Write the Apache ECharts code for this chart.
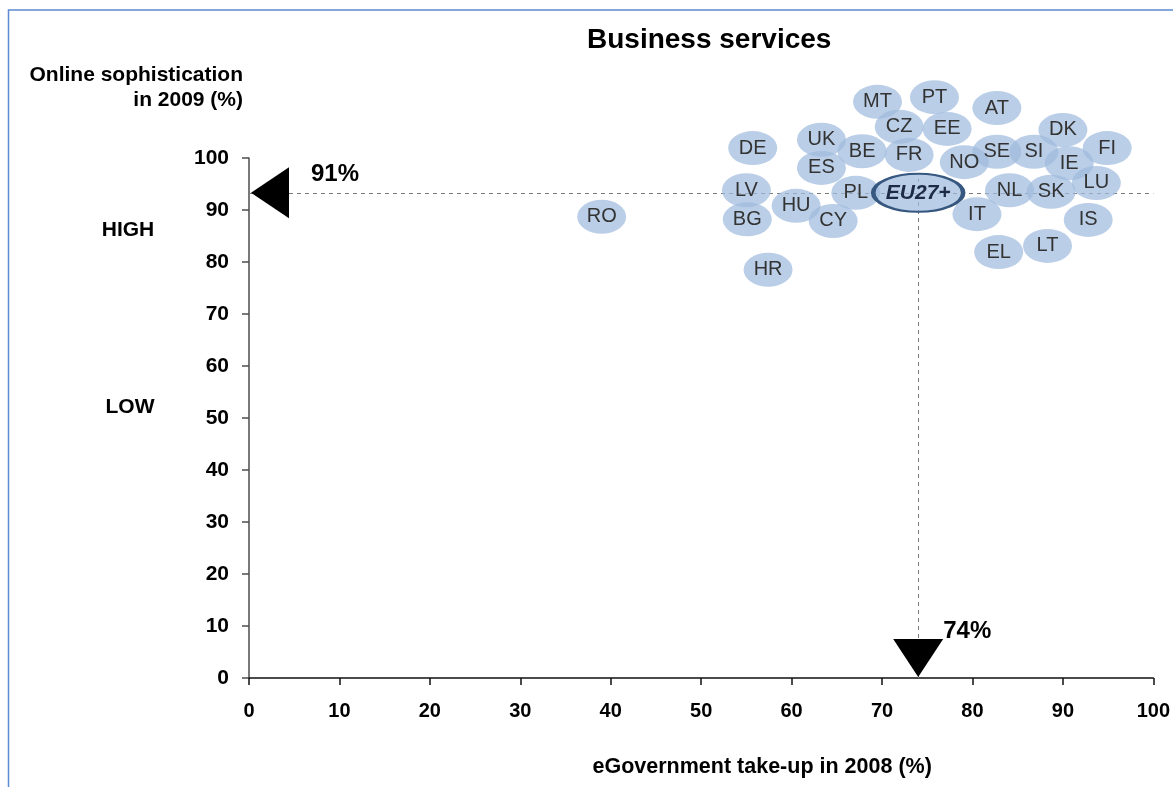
<!DOCTYPE html>
<html>
<head>
<meta charset="utf-8">
<title>Business services</title>
<script src="https://cdn.jsdelivr.net/npm/echarts@6/dist/echarts.min.js"></script>
<style>
  html, body { margin: 0; padding: 0; background: #fff; }
  #chart { width: 1173px; height: 787px; }
</style>
</head>
<body>
<div id="chart"></div>
<script>
// country codes, with their eGovernment take-up (x) and online sophistication (y)
const countries = ["RO", "DE", "LV", "BG", "HR", "HU", "CY", "UK", "ES", "BE",
  "PL", "MT", "PT", "CZ", "EE", "FR", "NO", "AT", "SE", "SI",
  "DK", "FI", "IE", "LU", "NL", "SK", "IT", "IS", "EL", "LT"];
const takeUp = [39.0, 55.7, 55.0, 55.1, 57.4, 60.5, 64.6, 63.3, 63.3, 67.8,
  67.1, 69.5, 75.8, 71.9, 77.2, 73.0, 79.1, 82.7, 82.7, 86.8,
  90.0, 94.9, 90.7, 93.7, 84.1, 88.7, 80.5, 92.8, 82.9, 88.3];
const sophistication = [88.7, 101.9, 93.8, 88.2, 78.5, 90.8, 87.9, 103.5, 98.1, 101.3,
  93.3, 110.8, 111.7, 106.0, 105.6, 100.6, 99.2, 109.6, 101.2, 101.2,
  105.4, 101.9, 99.0, 95.2, 93.8, 93.5, 89.2, 88.1, 81.9, 83.1];

// EU average
const euName = "EU27+";
const euTakeUp = 74;
const euSoph = 93.3;
const euTakeUpText = "74%";
const euSophText = "91%";

// axes
const axisMin = 0;
const axisMax = 100;
const axisStep = 10;

const FONT = "'Liberation Sans', Arial, sans-serif";
const ELLIPSE = "path://M0,50 A50,50 0 1,1 100,50 A50,50 0 1,1 0,50 Z";
const bubbleFill = "rgba(160,187,222,0.72)";

const chart = echarts.init(document.getElementById("chart"));

const countryData = countries.map((c, i) => ({
  name: c,
  value: [takeUp[i], sophistication[i]],
}));

const option = {
  backgroundColor: "#fff",
  animation: false,
  title: {
    text: "Business services",
    left: 582,
    top: 21,
    textStyle: { fontFamily: FONT, fontSize: 28, fontWeight: "bold", color: "#000" },
  },
  grid: { left: 249, right: 16, top: 158, bottom: 109, containLabel: false },
  xAxis: {
    type: "value",
    min: axisMin,
    max: axisMax,
    interval: axisStep,
    name: "eGovernment take-up in 2008 (%)",
    nameLocation: "middle",
    nameGap: 78,
    nameTextStyle: {
      fontFamily: FONT, fontSize: 21.5, fontWeight: "bold", color: "#000",
      padding: [0, 0, 0, 122],
    },
    splitLine: { show: false },
    axisLine: { onZero: false, lineStyle: { color: "#111", width: 1.5 } },
    axisTick: { show: true, inside: false, length: 7, lineStyle: { color: "#111", width: 1.5 } },
    axisLabel: { margin: 23, fontFamily: FONT, fontSize: 20, fontWeight: "bold", color: "#000" },
  },
  yAxis: {
    type: "value",
    min: axisMin,
    max: axisMax,
    interval: axisStep,
    name: "Online sophistication\nin 2009 (%)",
    nameLocation: "end",
    nameGap: 45,
    nameTextStyle: {
      fontFamily: FONT, fontSize: 21, fontWeight: "bold", color: "#000",
      align: "right", verticalAlign: "bottom", lineHeight: 25,
      padding: [0, 6, 0, 0],
    },
    splitLine: { show: false },
    axisLine: { onZero: false, lineStyle: { color: "#4d4d4d", width: 1.5 } },
    axisTick: { show: true, inside: false, length: 7, lineStyle: { color: "#4d4d4d", width: 1.5 } },
    axisLabel: { margin: 20, fontFamily: FONT, fontSize: 21, fontWeight: "bold", color: "#000" },
  },
  graphic: [
    {
      type: "rect",
      shape: { x: 8.5, y: 10, width: 1300, height: 900 },
      style: { fill: "none", stroke: "#5b8bd0", lineWidth: 1.5 },
      silent: true,
    },
    {
      type: "text",
      x: 128, y: 230,
      style: { text: "HIGH", fontFamily: FONT, fontSize: 21, fontWeight: "bold", fill: "#000", align: "center", verticalAlign: "middle" },
    },
    {
      type: "text",
      x: 130, y: 407,
      style: { text: "LOW", fontFamily: FONT, fontSize: 21, fontWeight: "bold", fill: "#000", align: "center", verticalAlign: "middle" },
    },
  ],
  series: [
    {
      type: "scatter",
      name: "countries",
      data: countryData,
      symbol: ELLIPSE,
      symbolSize: [49, 34],
      clip: false,
      z: 3,
      itemStyle: { color: bubbleFill, opacity: 1 },
      label: {
        show: true,
        position: "inside",
        formatter: "{b}",
        fontFamily: FONT,
        fontSize: 20,
        color: "#333",
      },
      emphasis: { disabled: true },
    },
    {
      type: "scatter",
      name: euName,
      data: [{ name: euName, value: [euTakeUp, euSoph] }],
      symbol: ELLIPSE,
      symbolSize: [90, 38],
      clip: false,
      z: 4,
      itemStyle: { color: bubbleFill, borderColor: "#36577f", borderWidth: 3, opacity: 1 },
      label: {
        show: true,
        position: "inside",
        formatter: "{b}",
        fontFamily: FONT,
        fontSize: 21,
        fontWeight: "bold",
        fontStyle: "italic",
        color: "#1d2b44",
      },
      emphasis: { disabled: true },
      markLine: {
        silent: true,
        symbol: "none",
        z: 2,
        label: { show: false },
        lineStyle: { color: "#7a7a7a", type: [4, 4], width: 1, opacity: 1 },
        data: [
          [{ coord: [axisMin, euSoph] }, { coord: [axisMax, euSoph] }],
          [{ coord: [euTakeUp, axisMin] }, { coord: [euTakeUp, 96] }],
        ],
      },
    },
    {
      // marker on the y axis
      type: "scatter",
      data: [[axisMin, euSoph]],
      symbol: "path://M0,50 L100,0 L100,100 Z",
      symbolSize: [38, 51],
      symbolOffset: [21, 0],
      clip: false,
      z: 5,
      itemStyle: { color: "#000", opacity: 1 },
      label: {
        show: true,
        position: "right",
        distance: 22,
        offset: [0, -18],
        formatter: euSophText,
        fontFamily: FONT,
        fontSize: 24,
        fontWeight: "bold",
        color: "#000",
      },
      emphasis: { disabled: true },
    },
    {
      // marker on the x axis
      type: "scatter",
      data: [[euTakeUp, axisMin]],
      symbol: "path://M0,0 L100,0 L50,100 Z",
      symbolSize: [50, 38],
      symbolOffset: [0, -20],
      clip: false,
      z: 5,
      itemStyle: { color: "#000", opacity: 1 },
      label: {
        show: true,
        position: "right",
        distance: 0,
        offset: [0, -27],
        formatter: euTakeUpText,
        fontFamily: FONT,
        fontSize: 24,
        fontWeight: "bold",
        color: "#000",
      },
      emphasis: { disabled: true },
    },
  ],
};

chart.setOption(option);
</script>
</body>
</html>
